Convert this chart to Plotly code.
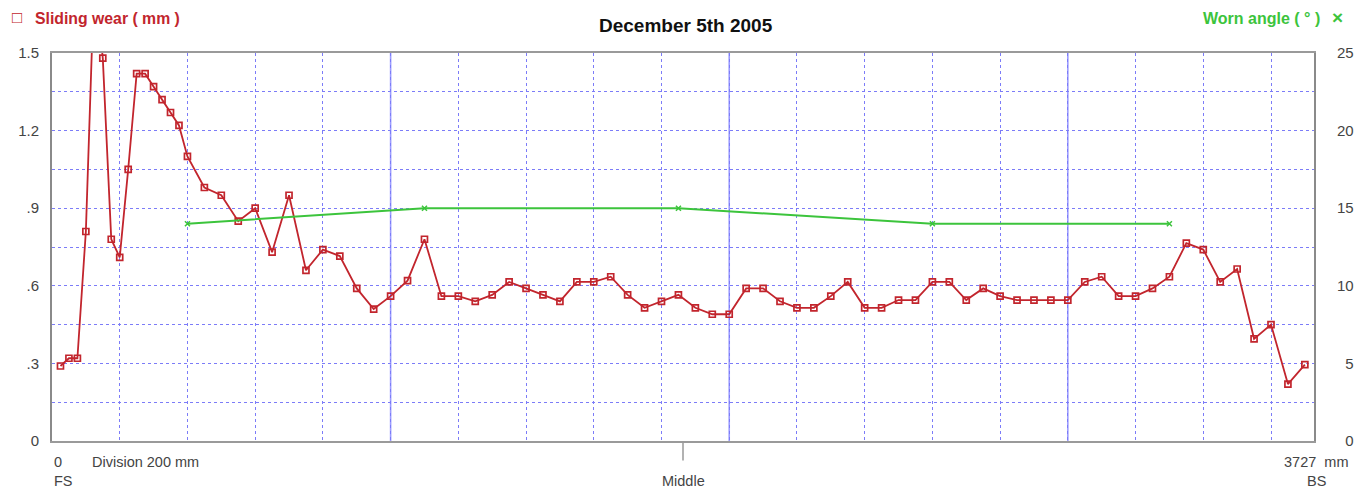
import plotly.graph_objects as go

# ---------------- data ----------------
rail_length_mm = 3727
wear_pos_mm = list(range(25, 401, 25)) + list(range(450, 3701, 50))
wear_mm = [
    0.29, 0.32, 0.32, 0.81, 1.80, 1.48, 0.78, 0.71, 1.05, 1.42, 1.42, 1.37, 1.32, 1.27, 1.22, 1.10,
    0.98, 0.95, 0.85, 0.90, 0.73, 0.95, 0.66, 0.74, 0.715, 0.59,
    0.51, 0.56, 0.62, 0.78, 0.56, 0.56, 0.54, 0.565, 0.615, 0.59,
    0.565, 0.54, 0.615, 0.615, 0.635, 0.565, 0.515, 0.54, 0.565, 0.515,
    0.49, 0.49, 0.59, 0.59, 0.54, 0.515, 0.515, 0.56, 0.615, 0.515,
    0.515, 0.545, 0.545, 0.615, 0.615, 0.545, 0.59, 0.56, 0.545, 0.545,
    0.545, 0.545, 0.615, 0.635, 0.56, 0.56, 0.59, 0.635, 0.765, 0.74,
    0.615, 0.665, 0.395, 0.45, 0.22, 0.295,
]
angle_pos_mm = [400, 1100, 1850, 2600, 3300]
angle_deg = [14, 15, 15, 14, 14]

wear_ticks = [0, 0.3, 0.6, 0.9, 1.2, 1.5]
wear_tick_text = ["0", ".3", ".6", ".9", "1.2", "1.5"]
angle_ticks = [0, 5, 10, 15, 20, 25]
angle_tick_text = ["\u20070", "\u20075", "10", "15", "20", "25"]
major_div_mm = [1000, 2000, 3000]

# ---------------- styles ----------------
RED = "#C2252D"
GREEN = "#3CC43C"
GRID = "#7c7cf8"
GRID_SOLID = "#9C9CFF"
FONT = "Liberation Sans, Arial, sans-serif"
TICK_COLOR = "#444444"

fig = go.Figure()

fig.add_trace(go.Scatter(
    x=wear_pos_mm, y=wear_mm, mode="lines+markers",
    line=dict(color=RED, width=1.8),
    marker=dict(symbol="square-open", size=6, color=RED, line=dict(color=RED, width=1.7)),
    yaxis="y", hoverinfo="skip",
))
fig.add_trace(go.Scatter(
    x=angle_pos_mm, y=angle_deg, mode="lines+markers",
    line=dict(color=GREEN, width=2),
    marker=dict(symbol="x-thin", size=5, color=GREEN, line=dict(color=GREEN, width=1.5)),
    yaxis="y2", hoverinfo="skip",
))

shapes = []
for m in major_div_mm:
    shapes.append(dict(type="line", xref="x", yref="paper", x0=m, x1=m, y0=0, y1=1,
                       line=dict(color=GRID_SOLID, width=1.6), layer="below"))
# middle tick
shapes.append(dict(type="line", xref="x", yref="paper", x0=rail_length_mm / 2, x1=rail_length_mm / 2,
                   y0=0, y1=-0.05, line=dict(color="#999999", width=1.5)))

annos = [
    dict(text="<b>December 5th 2005</b>", x=0.5024, y=1.072, font=dict(size=19, color="#111111")),
    dict(text="<b>\u25a1</b>", x=-0.0335, y=1.092, xanchor="left", font=dict(size=17, color=RED)),
    dict(text="<b>Sliding wear ( mm )</b>", x=-0.0151, y=1.090, xanchor="left", font=dict(size=15.8, color=RED)),
    dict(text="<b>Worn angle ( \u00b0 )</b>", x=1.0063, y=1.090, xanchor="right", font=dict(size=16, color=GREEN)),
    dict(text="<b>\u00d7</b>", x=1.019, y=1.092, font=dict(size=19, color=GREEN)),
    dict(text="0", x=0.0, y=-0.054, xanchor="left", font=dict(size=14.5, color=TICK_COLOR)),
    dict(text="Division 200 mm", x=0.0301, y=-0.054, xanchor="left", font=dict(size=14.5, color=TICK_COLOR)),
    dict(text="FS", x=0.0, y=-0.103, xanchor="left", font=dict(size=14.5, color=TICK_COLOR)),
    dict(text=f"{rail_length_mm}&nbsp;&nbsp;mm", x=1.0285, y=-0.054, xanchor="right", font=dict(size=14.5, color=TICK_COLOR)),
    dict(text="BS", x=1.0016, y=-0.103, font=dict(size=14.5, color=TICK_COLOR)),
    dict(text="Middle", x=0.5, y=-0.103, font=dict(size=14.5, color=TICK_COLOR)),
]
for a in annos:
    a.update(xref="paper", yref="paper", showarrow=False)
    a.setdefault("xanchor", "center")
    a.setdefault("yanchor", "middle")

fig.update_layout(
    width=1366, height=489,
    margin=dict(l=52, r=52, t=53, b=48),
    paper_bgcolor="white", plot_bgcolor="white",
    showlegend=False, hovermode=False,
    font=dict(family=FONT, size=14, color=TICK_COLOR),
    xaxis=dict(range=[0, rail_length_mm], dtick=200, tick0=0, showticklabels=False, ticks="",
               showgrid=True, gridcolor=GRID, griddash="dot", gridwidth=1,
               zeroline=False, showline=True, mirror=True, linecolor="#9a9a9a", linewidth=2),
    yaxis=dict(range=[0, 1.5], tickvals=wear_ticks, ticktext=wear_tick_text, ticks="",
               ticklabelstandoff=8, tickfont=dict(size=15, color=TICK_COLOR),
               showgrid=True, gridcolor=GRID, griddash="dot", gridwidth=1,
               minor=dict(dtick=0.15, tick0=0, showgrid=True, gridcolor=GRID, griddash="dot", gridwidth=1),
               zeroline=False, showline=True, mirror=True, linecolor="#8a8a8a", linewidth=2),
    yaxis2=dict(range=[0, 25], tickvals=angle_ticks, ticktext=angle_tick_text, ticks="",
                overlaying="y", side="right", showgrid=False, zeroline=False, showline=False,
                ticklabelstandoff=22, tickfont=dict(size=15, color=TICK_COLOR)),
    shapes=shapes, annotations=annos,
)

fig.write_html("out.html", config={"displayModeBar": False, "staticPlot": True},
               post_script="document.body.style.margin='0';document.body.style.overflow='hidden';")
